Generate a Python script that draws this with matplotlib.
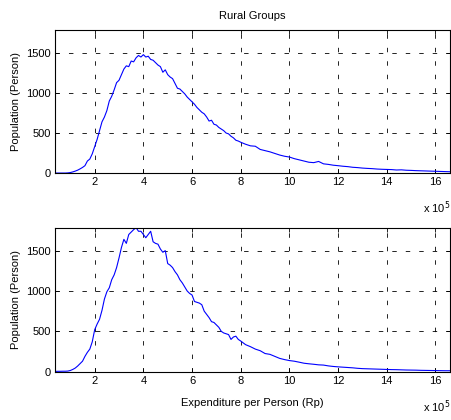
import numpy as np
import matplotlib
matplotlib.use('Agg')
import matplotlib.pyplot as plt

plt.rcParams['font.family'] = ['Liberation Sans', 'DejaVu Sans']
plt.rcParams['lines.scale_dashes'] = False

# expenditure grid (x 10^5 Rp): fine step to 8, coarser in the tail
x_head = np.round(np.arange(0.4, 8.01, 0.1), 1)
x_tail = np.round(np.arange(8.2, 16.61, 0.2), 1)
expenditure = np.concatenate([x_head, x_tail])

# top panel (persons)
rural_a = [0, 0, 0, 0, 0, 2, 6, 14, 24, 36,
           52, 70, 92, 150, 175, 240, 330, 420, 530, 640,
           700, 780, 900, 960, 1040, 1130, 1160, 1230, 1300, 1340,
           1330, 1400, 1390, 1440, 1470, 1450, 1480, 1450, 1460, 1420,
           1410, 1380, 1350, 1330, 1260, 1290, 1230, 1200, 1180, 1120,
           1060, 1050, 1020, 990, 950, 920, 890, 860, 820, 790,
           760, 740, 700, 650, 660, 610, 600, 570, 550, 530,
           500, 490, 460, 440, 410, 400, 385,
           360, 340, 335, 295, 280, 265, 245, 225, 210, 200,
           180, 165, 150, 135, 130, 145, 115, 108, 98, 92,
           85, 80, 72, 68, 62, 58, 55, 50, 47, 45,
           43, 38, 40, 35, 33, 30, 28, 26, 24, 22,
           20, 18, 16]

# bottom panel (persons)
rural_b = [4, 5, 5, 6, 6, 8, 15, 28, 45, 70,
           100, 130, 190, 240, 280, 370, 520, 590, 650, 760,
           900, 990, 1040, 1140, 1200, 1290, 1410, 1540, 1640, 1590,
           1700, 1730, 1760, 1785, 1740, 1740, 1700, 1660, 1700, 1740,
           1610, 1590, 1580, 1520, 1480, 1500, 1340, 1320, 1290, 1240,
           1200, 1140, 1100, 1050, 1000, 970, 950, 870, 860, 850,
           830, 750, 710, 670, 620, 610, 580, 550, 500, 480,
           470, 460, 400, 430, 440, 400, 380,
           335, 310, 280, 260, 225, 215, 190, 165, 150, 138,
           130, 118, 105, 98, 92, 85, 82, 72, 65, 60,
           56, 52, 48, 42, 38, 36, 34, 32, 30, 28,
           26, 25, 23, 21, 20, 19, 17, 16, 15, 14,
           13, 12, 12]

xticks = [2, 4, 6, 8, 10, 12, 14, 16]
yticks = [0, 500, 1000, 1500]

fig = plt.figure(figsize=(4.52, 4.2), dpi=100)
ax1 = fig.add_axes([0.1217, 0.588, 0.874, 0.340])
ax2 = fig.add_axes([0.1217, 0.115, 0.874, 0.343])

for ax, vals in [(ax1, rural_a), (ax2, rural_b)]:
    ax.plot(expenditure, vals, color='#0000ff', lw=0.8)
    ax.set_xlim(0.37, 16.6)
    ax.set_ylim(0, 1785)
    ax.set_xticks(xticks)
    ax.set_yticks(yticks)
    ax.grid(True, color='black', linestyle=(0, (3.2, 6.5)), linewidth=0.6)
    ax.tick_params(direction='in', top=True, right=True, length=3,
                   width=0.6, labelsize=8, pad=3)
    for s in ax.spines.values():
        s.set_linewidth(0.8)
    ax.set_ylabel('Population (Person)', fontsize=8, labelpad=4)
    ax.text(1.0, -0.30, r'x 10$^5$', transform=ax.transAxes,
            ha='right', va='bottom', fontsize=8)

ax1.set_title('Rural Groups', fontsize=8, pad=8)
ax2.set_xlabel('Expenditure per Person (Rp)', fontsize=8, labelpad=9)

fig.savefig('out.png', dpi=100)
